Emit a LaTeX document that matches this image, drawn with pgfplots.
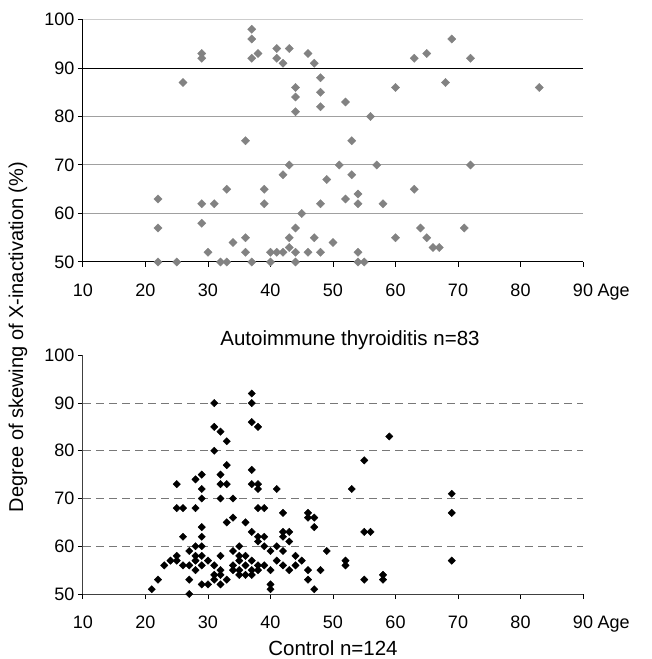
\documentclass[border=0pt]{standalone}
\usepackage{fontspec}
\setmainfont{Liberation Sans}
\usepackage{pgfplots}
\pgfplotsset{compat=1.18}
\definecolor{mgray}{RGB}{130,130,130}
\definecolor{gridg}{RGB}{160,160,160}
\definecolor{gridl}{RGB}{205,205,205}
\definecolor{dashg}{RGB}{120,120,120}
\begin{document}
\begin{tikzpicture}[x=1pt,y=1pt]
\useasboundingbox (0pt,0pt) rectangle (652pt,659pt);
\pgfplotsset{
 myax/.style={
  scale only axis, width=500pt, anchor=south west,
  xmin=10,xmax=90,ymin=50,ymax=100,
  xtick={10,20,...,90}, ytick={50,60,...,100},
  axis x line*=bottom, axis y line*=left,
  axis line style={-, line width=1pt},
  tick align=outside, major tick length=5pt,
  tick style={line width=1pt, black},
  tick label style={font=\fontsize{18}{21}\selectfont},
  /pgf/number format/assume math mode=true,
  clip=false,
  xticklabel style={yshift=-13pt},
  yticklabel style={xshift=0pt},
 }
}
\begin{axis}[myax, at={(83pt,397pt)}, height=242.5pt]
\addplot[gridl, line width=1pt] coordinates {(10,100) (90,100)};
\addplot[gridg, line width=1pt] coordinates {(10,80) (90,80)};
\addplot[gridg, line width=1pt] coordinates {(10,70) (90,70)};
\addplot[gridg, line width=1pt] coordinates {(10,60) (90,60)};
\addplot[black, line width=1pt] coordinates {(10,90) (90,90)};
\addplot[only marks, mark=square*, mark size=2.9pt, mark options={rotate=45, fill=mgray, draw=mgray}] coordinates {
(26,87) (29,93) (29,92)
(37,98) (37,96) (37,92) (38,93) (41,94) (41,92) (42,91) (43,94) (46,93) (47,91)
(44,86) (44,84) (44,81) (48,88) (48,85) (48,82) (52,83) (56,80)
(63,92) (65,93) (69,96) (72,92) (60,86) (68,87) (83,86)
(22,63) (22,57) (22,50) (25,50) (29,62) (29,58) (31,62) (30,52) (32,50)
(36,75) (53,75) (43,70) (51,70) (57,70) (42,68) (53,68) (49,67) (33,65) (39,65)
(39,62) (48,62) (52,63) (54,64) (54,62) (58,62) (45,60) (44,57) (43,55) (47,55)
(36,55) (34,54) (50,54) (43,53) (36,52) (40,52) (41,52) (42,52) (44,52) (46,52)
(48,52) (54,52) (33,50) (37,50) (40,50) (44,50) (54,50) (55,50)
(72,70) (63,65) (64,57) (71,57) (60,55) (65,55) (66,53) (67,53)
};
\end{axis}
\begin{axis}[myax, at={(83pt,65pt)}, height=238.7pt, axis line style={-, line width=1pt, black!75}]
\addplot[dashg, line width=1pt, dash pattern=on 8pt off 5pt] coordinates {(10,90) (90,90)};
\addplot[dashg, line width=1pt, dash pattern=on 8pt off 5pt] coordinates {(10,80) (90,80)};
\addplot[dashg, line width=1pt, dash pattern=on 8pt off 5pt] coordinates {(10,70) (90,70)};
\addplot[dashg, line width=1pt, dash pattern=on 8pt off 5pt] coordinates {(10,60) (90,60)};
\addplot[only marks, mark=square*, mark size=2.6pt, mark options={rotate=45, fill=black, draw=black}] coordinates {
(31,90) (37,92) (37,90) (31,85) (32,84) (33,82) (37,86) (38,85) (31,80) (55,78)
(33,77) (37,76) (25,73) (28,74) (29,75) (32,75) (32,73) (33,73) (37,73) (38,73)
(38,72) (41,72) (53,72) (29,72) (29,70) (32,70) (34,70) (25,68) (26,68) (28,68)
(38,68) (39,68) (42,67) (46,67) (46,66) (47,66) (47,64) (33,65) (34,66) (36,65)
(29,64) (29,62) (26,62) (37,63) (38,62) (39,62) (42,63) (43,63) (42,62) (43,61)
(38,61) (55,63) (56,63) (29,60) (28,60) (39,60) (41,60) (35,60) (27,59) (34,59)
(40,59) (42,59) (49,59) (25,58) (28,58) (29,58) (32,58) (35,58) (36,58) (44,58)
(59,83) (69,71) (69,67)
(21,51) (22,53) (23,56) (24,57) (25,57) (26,56) (27,50) (27,53) (27,56) (28,55)
(28,57) (29,52) (29,56) (30,52) (30,57)
(31,53) (31,54) (31,56) (32,52) (32,54) (32,55) (33,53) (34,55) (34,56) (35,54)
(35,55) (35,57) (36,54) (36,56) (37,54) (37,55) (37,57) (38,55) (38,56) (39,56)
(40,51) (40,52) (40,55)
(41,57) (42,56) (43,55) (44,56) (45,57) (46,53) (46,55) (47,51) (48,55)
(52,56) (52,57) (55,53) (58,53) (58,54) (69,57)
};
\end{axis}
\node[anchor=west, font=\fontsize{18}{21}\selectfont] at (594pt,367pt) {Age};
\node[anchor=west, font=\fontsize{18}{21}\selectfont] at (594pt,35pt) {Age};
\node[font=\fontsize{20.5}{24}\selectfont] at (350pt,319pt) {Autoimmune thyroiditis n=83};
\node[font=\fontsize{20.5}{24}\selectfont] at (333pt,11pt) {Control n=124};
\node[rotate=90, font=\fontsize{20}{24}\selectfont] at (18pt,322pt) {Degree of skewing of X-inactivation (\%)};
\end{tikzpicture}
\end{document}
